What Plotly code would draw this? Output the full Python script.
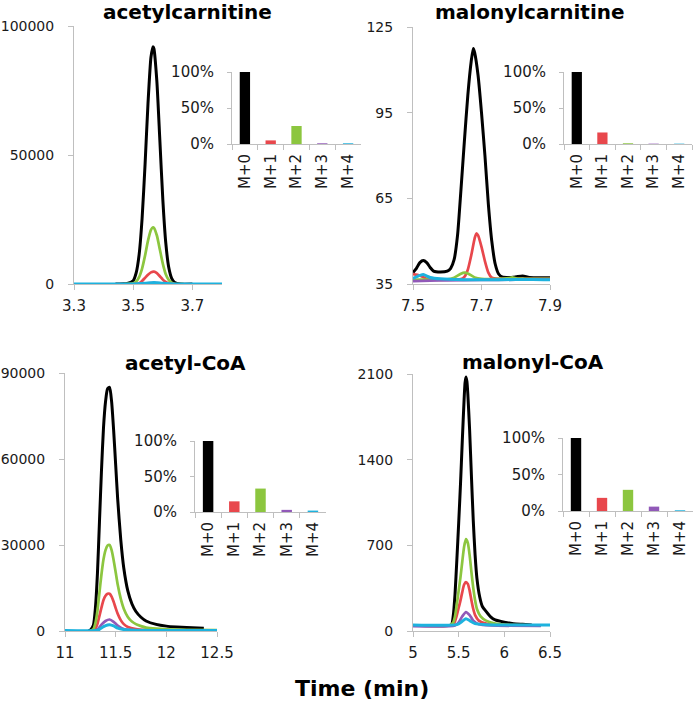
import plotly.graph_objects as go

W, H = 693, 706

iso_labels = ["M+0", "M+1", "M+2", "M+3", "M+4"]
iso_colors = ["#000000", "#e8474c", "#8cc63f", "#9159b8", "#1db2de"]

titles = ["acetylcarnitine", "malonylcarnitine", "acetyl-CoA", "malonyl-CoA"]

# ---------- acetylcarnitine chromatogram ----------
ac_m0_x = [3.44, 3.48, 3.50, 3.51, 3.52, 3.53, 3.54, 3.55, 3.56, 3.567, 3.57, 3.58, 3.59, 3.60, 3.61, 3.62, 3.63, 3.64, 3.66, 3.70]
ac_m0_y = [0, 200, 1300, 4300, 11400, 25300, 46200, 70000, 87900, 92000, 91200, 78400, 55800, 32900, 16000, 6500, 2200, 600, 0, 0]
ac_m1_x = [3.50, 3.52, 3.53, 3.54, 3.55, 3.56, 3.57, 3.58, 3.59, 3.60, 3.61, 3.62, 3.64]
ac_m1_y = [0, 300, 1200, 2400, 3600, 4500, 4800, 4200, 3000, 1700, 800, 300, 0]
ac_m2_x = [3.47, 3.50, 3.51, 3.52, 3.53, 3.54, 3.55, 3.56, 3.567, 3.57, 3.58, 3.59, 3.60, 3.61, 3.62, 3.63, 3.64, 3.67]
ac_m2_y = [0, 300, 1000, 2700, 6000, 11000, 16800, 21000, 22000, 21800, 18800, 13400, 7900, 3800, 1600, 500, 0, 0]
ac_m3_x = [3.50, 3.54, 3.57, 3.60, 3.64]
ac_m3_y = [0, 200, 400, 200, 0]
ac_m4_x = [3.30, 3.50, 3.54, 3.57, 3.60, 3.64, 3.80]
ac_m4_y = [0, 0, 300, 600, 300, 0, 0]

# ---------- malonylcarnitine chromatogram ----------
mc_m0_x = [7.50, 7.51, 7.52, 7.53, 7.54, 7.55, 7.56, 7.58, 7.60, 7.61, 7.62, 7.63, 7.64, 7.65, 7.66, 7.67, 7.676, 7.68, 7.69, 7.70, 7.71, 7.72, 7.73, 7.74, 7.75, 7.76, 7.78, 7.80, 7.82, 7.84, 7.88, 7.90]
mc_m0_y = [39.0, 40.5, 42.5, 43.2, 42.5, 40.8, 39.5, 39.2, 39.5, 40.5, 43.5, 52, 68, 85, 101, 113, 117.5, 116, 108, 95, 80, 63, 50, 42, 38.5, 37.5, 37.3, 37.5, 37.8, 37.3, 37.2, 37.2]
mc_m1_x = [7.50, 7.52, 7.54, 7.56, 7.60, 7.64, 7.65, 7.66, 7.67, 7.68, 7.685, 7.69, 7.70, 7.71, 7.72, 7.73, 7.75, 7.80, 7.90]
mc_m1_y = [38.5, 38.0, 36.8, 36.5, 36.5, 36.7, 37.5, 40, 45, 51, 52.7, 52, 48, 43, 39, 37.2, 36.8, 36.8, 36.8]
mc_m2_x = [7.50, 7.55, 7.60, 7.62, 7.64, 7.65, 7.66, 7.68, 7.70, 7.75, 7.78, 7.79, 7.80, 7.85, 7.90]
mc_m2_y = [36.5, 36.5, 36.6, 37.2, 38.6, 39.0, 38.7, 37.3, 36.8, 36.8, 37.1, 37.3, 37.0, 36.8, 36.8]
mc_m3_x = [7.50, 7.55, 7.60, 7.70, 7.80, 7.90]
mc_m3_y = [36.0, 36.2, 36.3, 36.4, 36.5, 36.5]
mc_m4_x = [7.50, 7.52, 7.53, 7.55, 7.58, 7.65, 7.75, 7.85, 7.90]
mc_m4_y = [37.0, 38.0, 38.3, 37.3, 36.8, 36.5, 36.5, 36.6, 36.5]

# ---------- acetyl-CoA chromatogram ----------
aco_m0_x = [11.23, 11.25, 11.28, 11.30, 11.32, 11.34, 11.36, 11.38, 11.40, 11.42, 11.44, 11.46, 11.48, 11.50, 11.52, 11.55, 11.58, 11.62, 11.66, 11.70, 11.75, 11.80, 11.90, 12.00, 12.10, 12.20, 12.37]
aco_m0_y = [0, 300, 2000, 8000, 20000, 38000, 56000, 71000, 80000, 84500, 85000, 80000, 70000, 58000, 46000, 32000, 22000, 14000, 9500, 6800, 4800, 3500, 2300, 1700, 1400, 1200, 1000]
aco_m1_x = [11.28, 11.30, 11.32, 11.34, 11.36, 11.38, 11.40, 11.42, 11.44, 11.46, 11.48, 11.50, 11.52, 11.55, 11.58, 11.62, 11.70, 11.80, 12.00, 12.30]
aco_m1_y = [0, 800, 2500, 5300, 8200, 10800, 12300, 13000, 13000, 12000, 10200, 8000, 6000, 3800, 2400, 1400, 700, 400, 200, 100]
aco_m2_x = [11.25, 11.28, 11.30, 11.32, 11.34, 11.36, 11.38, 11.40, 11.42, 11.44, 11.46, 11.48, 11.50, 11.52, 11.55, 11.58, 11.62, 11.66, 11.70, 11.75, 11.80, 11.90, 12.00, 12.20, 12.50]
aco_m2_y = [0, 700, 2800, 7000, 13400, 19800, 25000, 28200, 29800, 30000, 28200, 24700, 20500, 16200, 11300, 7800, 4900, 3300, 2400, 1700, 1200, 800, 600, 400, 300]
aco_m3_x = [11.30, 11.33, 11.36, 11.40, 11.44, 11.48, 11.52, 11.56, 11.62, 11.70, 11.80]
aco_m3_y = [0, 800, 2200, 3500, 4000, 3200, 1900, 1000, 400, 150, 0]
aco_m4_x = [11.00, 11.30, 11.34, 11.38, 11.42, 11.44, 11.48, 11.52, 11.58, 11.70, 12.50]
aco_m4_y = [200, 200, 600, 1500, 2100, 2200, 1800, 1000, 500, 300, 200]

# ---------- malonyl-CoA chromatogram ----------
mco_m0_x = [5.00, 5.30, 5.42, 5.44, 5.46, 5.48, 5.50, 5.52, 5.54, 5.56, 5.57, 5.58, 5.59, 5.60, 5.62, 5.64, 5.66, 5.68, 5.70, 5.73, 5.76, 5.80, 5.85, 5.90, 6.00, 6.10, 6.20, 6.30]
mco_m0_y = [45, 45, 50, 120, 300, 580, 880, 1200, 1560, 1900, 2030, 2075, 2040, 1940, 1640, 1260, 900, 620, 430, 280, 200, 160, 115, 90, 72, 60, 55, 50]
mco_m1_x = [5.00, 5.44, 5.46, 5.48, 5.50, 5.52, 5.54, 5.56, 5.58, 5.60, 5.62, 5.64, 5.66, 5.68, 5.72, 5.80, 6.00, 6.40]
mco_m1_y = [45, 50, 80, 130, 190, 250, 320, 380, 400, 385, 330, 250, 180, 130, 85, 60, 48, 45]
mco_m2_x = [5.00, 5.40, 5.44, 5.46, 5.48, 5.50, 5.52, 5.54, 5.56, 5.58, 5.60, 5.62, 5.64, 5.66, 5.68, 5.70, 5.74, 5.80, 5.90, 6.00, 6.20, 6.40]
mco_m2_y = [45, 45, 70, 120, 220, 330, 440, 570, 690, 750, 720, 620, 480, 350, 250, 180, 120, 85, 60, 52, 48, 45]
mco_m3_x = [5.00, 5.46, 5.50, 5.54, 5.58, 5.62, 5.66, 5.72, 5.85, 6.40]
mco_m3_y = [40, 45, 70, 120, 155, 130, 85, 55, 45, 42]
mco_m4_x = [5.00, 5.48, 5.54, 5.58, 5.62, 5.68, 5.80, 6.50]
mco_m4_y = [50, 52, 80, 100, 85, 60, 52, 50]

# ---------- isotopologue fractions (%) ----------
ac_frac = [100, 5, 25, 1, 1]
mc_frac = [100, 16, 1, 0.5, 0.5]
aco_frac = [100, 15, 33, 3, 2]
mco_frac = [100, 18, 29, 6, 1]

# ---------- axes ----------
ac_xrange, ac_xticks = [3.3, 3.8], [3.3, 3.5, 3.7]
ac_yrange, ac_yticks = [0, 100000], [0, 50000, 100000]
mc_xrange, mc_xticks = [7.5, 7.9], [7.5, 7.7, 7.9]
mc_yrange, mc_yticks = [35, 125], [35, 65, 95, 125]
aco_xrange, aco_xticks = [11, 12.5], [11, 11.5, 12, 12.5]
aco_yrange, aco_yticks = [0, 90000], [0, 30000, 60000, 90000]
mco_xrange, mco_xticks = [5, 6.5], [5, 5.5, 6, 6.5]
mco_yrange, mco_yticks = [0, 2100], [0, 700, 1400, 2100]
frac_ticks = [0, 50, 100]
frac_ticktext = ["0%", "50%", "100%"]

# ---------- layout positions (pixels) ----------
main_px = [  # x0, x1, ytop, ybottom
    (74, 222, 26, 284),
    (413, 550, 27, 284),
    (65, 217, 373, 631),
    (413, 550, 374, 631),
]
inset_px = [
    (232, 361, 72, 144),
    (564, 692, 72, 144),
    (195, 326, 441, 512),
    (563, 693, 438, 511),
]
title_px = [(187, 12), (530, 12), (185, 363), (533, 362)]

FONT = "DejaVu Sans"
AX = "#bfbfbf"
TXT = "#1a1a1a"
TS = 15


def xd(a, b):
    return [a / W, b / W]


def yd(top, bot):
    return [1 - bot / H, 1 - top / H]


fig = go.Figure()

chroms = [
    [(ac_m0_x, ac_m0_y), (ac_m1_x, ac_m1_y), (ac_m2_x, ac_m2_y), (ac_m3_x, ac_m3_y), (ac_m4_x, ac_m4_y)],
    [(mc_m0_x, mc_m0_y), (mc_m1_x, mc_m1_y), (mc_m2_x, mc_m2_y), (mc_m3_x, mc_m3_y), (mc_m4_x, mc_m4_y)],
    [(aco_m0_x, aco_m0_y), (aco_m1_x, aco_m1_y), (aco_m2_x, aco_m2_y), (aco_m3_x, aco_m3_y), (aco_m4_x, aco_m4_y)],
    [(mco_m0_x, mco_m0_y), (mco_m1_x, mco_m1_y), (mco_m2_x, mco_m2_y), (mco_m3_x, mco_m3_y), (mco_m4_x, mco_m4_y)],
]
fracs = [ac_frac, mc_frac, aco_frac, mco_frac]
xr = [(ac_xrange, ac_xticks), (mc_xrange, mc_xticks), (aco_xrange, aco_xticks), (mco_xrange, mco_xticks)]
yr = [(ac_yrange, ac_yticks), (mc_yrange, mc_yticks), (aco_yrange, aco_yticks), (mco_yrange, mco_yticks)]

layout = {}
for p in range(4):
    mi = 2 * p + 1
    ii = 2 * p + 2
    for k in range(5):
        xs, ys = chroms[p][k]
        fig.add_trace(go.Scatter(
            x=xs, y=ys, mode="lines",
            line=dict(color=iso_colors[k], width=3 if k in (0, 4) else 2.7, shape="spline", smoothing=0.6),
            xaxis=f"x{mi}", yaxis=f"y{mi}", showlegend=False, hoverinfo="skip",
        ))
    fig.add_trace(go.Bar(
        x=iso_labels, y=fracs[p], marker=dict(color=iso_colors, line=dict(width=0)),
        xaxis=f"x{ii}", yaxis=f"y{ii}", showlegend=False, hoverinfo="skip",
    ))
    common = dict(showline=True, linecolor=AX, linewidth=1, ticks="outside", tickcolor=AX,
                  showgrid=False, zeroline=False, automargin=False, fixedrange=True)
    x0, x1, yt, yb = main_px[p]
    layout[f"xaxis{mi}"] = dict(
        domain=xd(x0, x1), range=xr[p][0], tickvals=xr[p][1], anchor=f"y{mi}",
        ticklen=5, ticklabelstandoff=3, tickfont=dict(family=FONT, size=TS, color=TXT), **common,
    )
    layout[f"yaxis{mi}"] = dict(
        domain=yd(yt, yb), range=yr[p][0], tickvals=yr[p][1], tickformat="d", anchor=f"x{mi}",
        ticklen=5, ticklabelstandoff=11, tickfont=dict(family=FONT, size=14, color=TXT), **common,
    )
    x0, x1, yt, yb = inset_px[p]
    layout[f"xaxis{ii}"] = dict(
        domain=xd(x0, x1), type="category", anchor=f"y{ii}",
        ticklen=5, tickson="boundaries", tickangle=-90, ticklabelstandoff=3,
        tickfont=dict(family=FONT, size=TS, color=TXT), **common,
    )
    layout[f"yaxis{ii}"] = dict(
        domain=yd(yt, yb), range=[0, 100], tickvals=frac_ticks, ticktext=frac_ticktext, anchor=f"x{ii}",
        ticklen=4, ticklabelstandoff=10, tickfont=dict(family=FONT, size=TS, color=TXT), **common,
    )

annotations = []
for p in range(4):
    tx, ty = title_px[p]
    annotations.append(dict(
        text=f"<b>{titles[p]}</b>", x=tx / W, y=1 - ty / H, xref="paper", yref="paper",
        xanchor="center", yanchor="middle", showarrow=False,
        font=dict(family=FONT, size=20, color="#000000"),
    ))
annotations.append(dict(
    text="<b>Time (min)</b>", x=362 / W, y=1 - 688 / H, xref="paper", yref="paper",
    xanchor="center", yanchor="middle", showarrow=False,
    font=dict(family=FONT, size=22, color="#000000"),
))

fig.update_layout(
    width=W, height=H, margin=dict(l=0, r=0, t=0, b=0, autoexpand=False),
    paper_bgcolor="white", plot_bgcolor="rgba(0,0,0,0)",
    bargap=0.6, annotations=annotations,
    font=dict(family=FONT, size=TS, color=TXT),
    **layout,
)

fig.write_html(
    "out.html",
    config={"displayModeBar": False, "staticPlot": True},
    post_script="document.body.style.margin='0';document.body.style.overflow='hidden';",
)
